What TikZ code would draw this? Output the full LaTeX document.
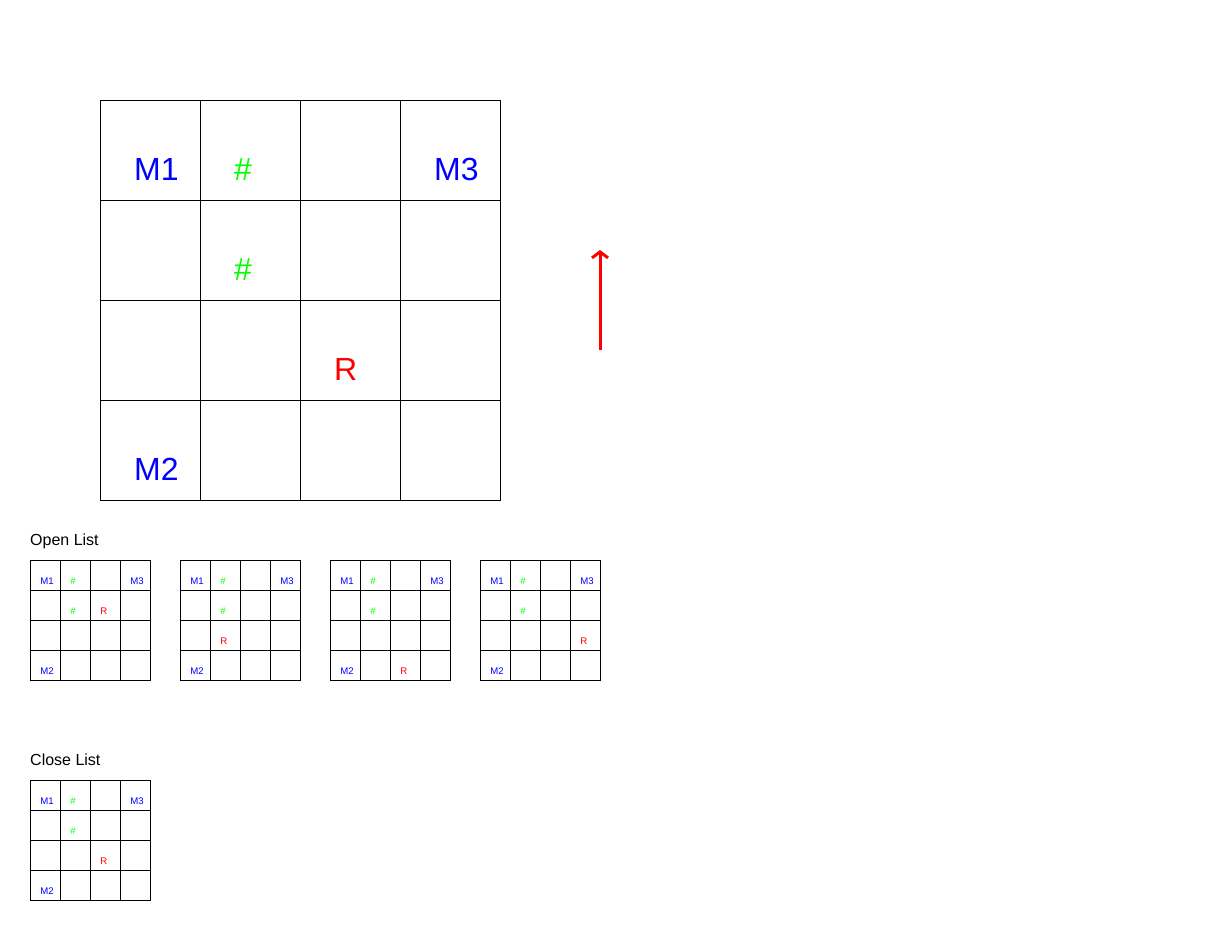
\documentclass[tikz,border=0pt]{standalone}
\usepackage{fontspec}
\setmainfont{Liberation Sans}
\usetikzlibrary{arrows.meta}
\definecolor{mblue}{RGB}{0,0,255}
\definecolor{mgreen}{RGB}{0,255,0}
\definecolor{mred}{RGB}{255,0,0}
\tikzset{
  gridline/.style={draw=black, line width=1pt, line cap=rect},
  celltext/.style={anchor=base west, inner sep=0pt},
  listlabel/.style={anchor=base west, inner sep=0pt, font=\fontsize{16}{19}\selectfont},
  moveline/.style={draw=mred, line width=3pt, -{Straight Barb[length=6pt,width=16pt,line width=3pt]}}
}
% #1 x, #2 y, #3 cell size, #4 font size, #5 R column, #6 R row, #7 name
\newcommand{\mygrid}[7]{%
  \foreach \i in {0,...,4} {
    \draw[gridline] (#1+\i*#3, #2) -- (#1+\i*#3, #2+4*#3);
    \draw[gridline] (#1, #2+\i*#3) -- (#1+4*#3, #2+\i*#3);
  }
  \node[celltext, text=mblue, font=\fontsize{#4}{#4}\selectfont] (#7-m1) at (#1+0.34*#3, #2+0.8*#3) {M1};
  \node[celltext, text=mgreen, font=\fontsize{#4}{#4}\selectfont] (#7-w1) at (#1+1.34*#3, #2+0.8*#3) {\#};
  \node[celltext, text=mblue, font=\fontsize{#4}{#4}\selectfont] (#7-m3) at (#1+3.34*#3, #2+0.8*#3) {M3};
  \node[celltext, text=mgreen, font=\fontsize{#4}{#4}\selectfont] (#7-w2) at (#1+1.34*#3, #2+1.8*#3) {\#};
  \node[celltext, text=mred, font=\fontsize{#4}{#4}\selectfont] (#7-r) at (#1+#5*#3+0.34*#3, #2+#6*#3+0.8*#3) {R};
  \node[celltext, text=mblue, font=\fontsize{#4}{#4}\selectfont] (#7-m2) at (#1+0.34*#3, #2+3.8*#3) {M2};
}
\begin{document}
\begin{tikzpicture}[x=1pt,y=-1pt]
\useasboundingbox[fill=white] (0,0) rectangle (1230,940);
% main grid
\mygrid{100}{100}{100}{32}{2}{2}{main}
% move arrow
\coordinate (arrowstart) at (600,350);
\coordinate (arrowend) at (600,250);
\draw[moveline] (arrowstart) -- (arrowend);
% open list
\node[listlabel] (openlabel) at (30,545) {Open List};
\mygrid{30}{560}{30}{9.6}{2}{1}{openA}
\mygrid{180}{560}{30}{9.6}{1}{2}{openB}
\mygrid{330}{560}{30}{9.6}{2}{3}{openC}
\mygrid{480}{560}{30}{9.6}{3}{2}{openD}
% close list
\node[listlabel] (closelabel) at (30,765) {Close List};
\mygrid{30}{780}{30}{9.6}{2}{2}{closeA}
\end{tikzpicture}
\end{document}
